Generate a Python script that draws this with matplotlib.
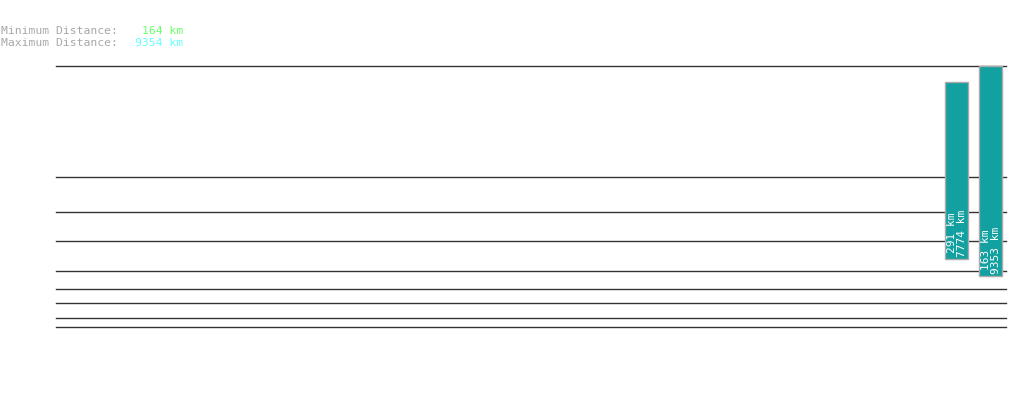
import matplotlib
matplotlib.use('Agg')
import matplotlib.pyplot as plt

# ── data ──
grid_levels = [261, 150, 115, 86, 56, 38, 24, 9, 0]
bar_pos = [26, 27]
bar_low = [68, 51]
bar_high = [244.5, 260.5]
min_km = [291, 163]
max_km = [7774, 9353]
overall_min = 164
overall_max = 9354

W, H = 1019, 402
fig = plt.figure(figsize=(W / 100, H / 100), dpi=100)
ax = fig.add_axes([56 / W, (H - 328.2) / H, 950 / W, 262 / H])
ax.set_xlim(-0.5, 27.45)
ax.set_ylim(-0.5, 261.5)
ax.axis('off')

for lv in grid_levels:
    ax.axhline(lv, color='#333333', linewidth=1.0, zorder=1, clip_on=False)

heights = [h - l for l, h in zip(bar_low, bar_high)]
ax.bar(bar_pos, heights, bottom=bar_low, width=0.68, color='#12a0a0',
       edgecolor='#aaaaaa', linewidth=1.0, zorder=3)

for x, lo, a, b in zip(bar_pos, bar_low, min_km, max_km):
    ax.text(x, lo + 3, f'{a} km\n{b} km', rotation=90, ha='center', va='bottom',
            color='white', fontsize=8, family='DejaVu Sans Mono',
            linespacing=0.95, zorder=4)

mono = dict(family='DejaVu Sans Mono', fontsize=8.2, va='center')
fig.text(1 / W, 1 - 31 / H, 'Minimum Distance:', color='#a8a8a8', **mono)
fig.text(1 / W, 1 - 43 / H, 'Maximum Distance:', color='#a8a8a8', **mono)
fig.text(183 / W, 1 - 31 / H, f'{overall_min} km', color='#66ff66', ha='right', **mono)
fig.text(183 / W, 1 - 43 / H, f'{overall_max} km', color='#66ffff', ha='right', **mono)

fig.savefig('out.png', dpi=100)
